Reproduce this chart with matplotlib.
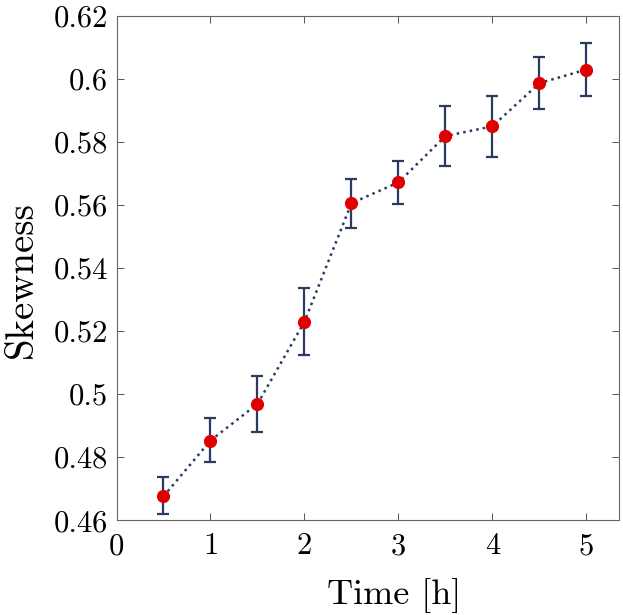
import matplotlib
matplotlib.use("Agg")
import matplotlib.pyplot as plt
from matplotlib.ticker import FuncFormatter

# values
time_h = [0.5, 1.0, 1.5, 2.0, 2.5, 3.0, 3.5, 4.0, 4.5, 5.0]
skewness = [0.4676, 0.4853, 0.4969, 0.5230, 0.5606, 0.5672, 0.5819, 0.5850, 0.5987, 0.6030]
err_low = [0.0057, 0.0069, 0.0090, 0.0105, 0.0080, 0.0069, 0.0095, 0.0097, 0.0081, 0.0085]
err_high = [0.0060, 0.0071, 0.0089, 0.0106, 0.0077, 0.0068, 0.0095, 0.0097, 0.0083, 0.0083]
x_ticks = [0, 1, 2, 3, 4, 5]
y_ticks = [0.46, 0.48, 0.50, 0.52, 0.54, 0.56, 0.58, 0.60, 0.62]

plt.rcParams['font.family'] = ['cmr10', 'DejaVu Serif']
plt.rcParams['mathtext.fontset'] = 'cm'
plt.rcParams['axes.formatter.use_mathtext'] = True

fig = plt.figure(figsize=(6.23, 6.15), dpi=100, facecolor="white")
ax = fig.add_axes([0.187, 0.154, 0.807, 0.820])

navy = "#2b3a60"
ax.errorbar(time_h, skewness, yerr=[err_low, err_high], fmt='none',
            ecolor=navy, elinewidth=1.6, capsize=4.5, capthick=1.6, zorder=2)
ax.plot(time_h, skewness, linestyle=':', color=navy, linewidth=1.8, zorder=3)
ax.plot(time_h, skewness, linestyle='none', marker='o', markersize=9.5,
        color="#e00000", markeredgewidth=0, zorder=4)

ax.set_xlim(0, 5.35)
ax.set_ylim(0.46, 0.62)
ax.set_xticks(x_ticks)
ax.set_yticks(y_ticks)
ax.yaxis.set_major_formatter(FuncFormatter(lambda v, p: "%g" % round(v, 2)))
ax.xaxis.set_major_formatter(FuncFormatter(lambda v, p: "%g" % v))

ax.tick_params(direction='in', length=5, width=0.7, color="#555555",
               top=True, right=True, labelsize=22, pad=6)
ax.tick_params(axis='x', pad=9)
for s in ax.spines.values():
    s.set_color("#666666")
    s.set_linewidth(0.8)

ax.set_xlabel("Time [h]", fontsize=26, labelpad=13)
ax.set_ylabel("Skewness", fontsize=28, labelpad=10)
ax.xaxis.label.set_x(0.552)
ax.yaxis.label.set_y(0.478)

fig.savefig("out.png", dpi=100, facecolor="white")
